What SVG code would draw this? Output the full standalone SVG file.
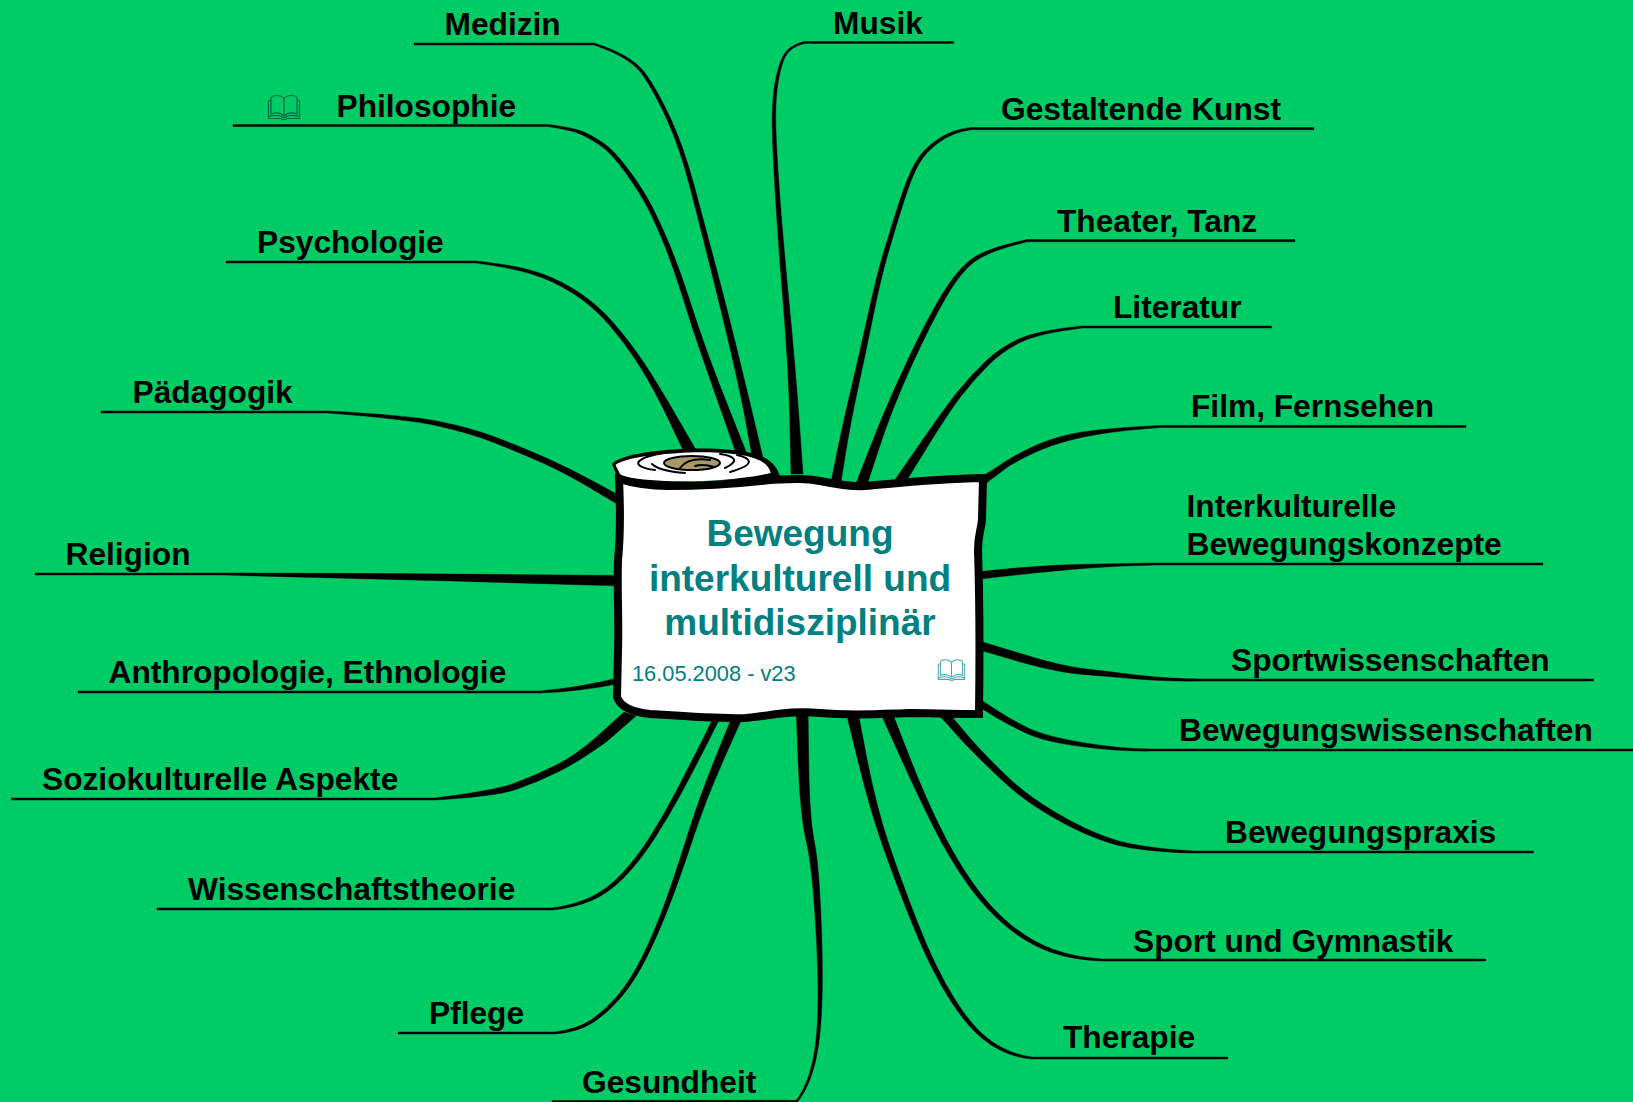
<svg xmlns="http://www.w3.org/2000/svg" xmlns:xlink="http://www.w3.org/1999/xlink" width="1633" height="1102" viewBox="0 0 1633 1102">
<style>
.l{font-family:"Liberation Sans",Arial,sans-serif;font-weight:bold;font-size:31.700px;fill:#000}
.t{font-family:"Liberation Sans",Arial,sans-serif;font-weight:bold;font-size:37px;fill:#008080;text-anchor:middle}
.d{font-family:"Liberation Sans",Arial,sans-serif;font-size:21.800px;fill:#008080}
#connectors path{fill:#000;stroke:#000;stroke-width:.4;stroke-linejoin:round}
.ring{fill:none;stroke:#000;stroke-width:2;stroke-linecap:round}
.bk{fill:none;stroke-width:1.2;stroke-linejoin:round}
</style>
<defs>
<symbol id="book" viewBox="0 0 34 25" overflow="visible">
<path d="M17 21C14 18 9 17 4 19L4 3C5 0 14-1 17 4C20-1 29 0 30 3L30 19C25 17 20 18 17 21ZM17 4L17 21"/>
<path d="M4 5L1.500 6L1.500 23.500L14 23.500C15 25 19 25 20 23.500L32.500 23.500L32.500 6L30 5"/>
<path d="M2 21.500C7 20 13 20 17 23C21 20 27 20 32 21.500"/>
</symbol>
</defs>
<rect width="1633" height="1102" fill="#00cc66"/>
<g id="connectors">
<path d="M414 42.900L594 42.900Q632 55 644.750 72.500Q657.500 90 670.750 118.700Q684 147.400 694.700 187.400Q705.400 227.400 716.200 267.850Q727 308.300 737.700 352.150Q748.400 396 756.200 429L764 462L753 462L747.300 430Q741.600 398 731.300 353.850Q721 309.700 710.800 269.150Q700.600 228.600 690.300 188.600Q680 148.600 667.250 120.300Q654.500 92 642.250 74.500Q630 57 594 45.100L414 45.100Z"/>
<path d="M233 124.400L548 124.400Q573.500 127.600 582.800 131.600Q592 135.500 602.700 142.600Q613.400 149.600 628.200 169.300Q643 189 652 206.500Q661 224 670.300 246.600Q679.600 269.200 688.800 297.700Q697.900 326.200 707.300 352Q716.700 377.800 731.900 415.900L747 454L737 456L723.700 418.100Q710.300 380.200 701.200 354Q692.100 327.800 683.300 299.300Q674.400 270.800 665.700 248.400Q657 226 648 208.500Q639 191 624.800 171.700Q610.600 152.400 600.300 145.500Q590 138.500 581.300 134.500Q572.500 130.400 548 126.600L233 126.600Z"/>
<path d="M226 260.900L476 260.900Q510.200 264.500 531.500 270.400Q552.800 276.200 574 289.200Q595.300 302.200 612.700 321.900Q630 341.500 644.300 363.300Q658.600 385 677.300 417.500L696 450L684 452L668.700 420Q653.400 388 639.700 366.300Q626 344.500 609.400 325.200Q592.700 305.800 572 292.800Q551.200 279.800 530.500 273.700Q509.800 267.500 476 263.100L226 263.100Z"/>
<path d="M101 410.900L328 410.900Q406.200 415 438 421.200Q469.700 427.400 495.900 437.300Q522 447.200 545.700 457.700Q569.400 468.200 595.700 482.600L622 497L622 507L594.300 490.400Q566.600 473.800 543.300 463.300Q520 452.800 494.200 442.700Q468.300 432.600 437 425.800Q405.800 419 328 413.100L101 413.100Z"/>
<path d="M35 572.900L224 572.900L400 573.500L622 575.500L622 586L450 581L224 575.100L35 575.100Z"/>
<path d="M78 690.900L539 690.900Q578 688 622 677L622 683Q578 692 539 693.100L78 693.100Z"/>
<path d="M11.500 797.900L435 797.900Q494.200 790.600 514.300 783.300Q534.400 775.900 555.200 765.600Q575.900 755.200 597 736.500L624 712L636 716L606.800 741.500Q580.100 760.800 558.900 771.500Q537.600 782.100 516.700 789.300Q495.800 796.400 435 800.100L11.500 800.100Z"/>
<path d="M157 907.900L552 907.900Q572.500 905.200 589 897.900Q605.600 890.600 620.900 874.700Q636.200 858.700 650.500 836Q664.800 813.300 677.600 788.500Q690.300 763.600 701.600 741.700L716 712L722 714L708.900 740.200Q695.700 766.400 682.500 791Q669.200 815.700 654.500 838.500Q639.800 861.300 624.100 877.400Q608.400 893.400 591 900.700Q573.500 908 552 910.100L157 910.100Z"/>
<path d="M398 1031.900L555 1031.900Q577.400 1029.200 591.600 1019.500Q605.700 1009.700 618.500 994.400Q631.300 979 642.600 956.100Q653.900 933.200 664.100 905.200Q674.300 877.200 687 836.500Q699.700 795.800 716.900 753.900L734 712L744 714L725.200 756.100Q706.300 798.200 693 838.500Q679.700 878.800 668.900 906.800Q658.100 934.800 646.400 957.900Q634.700 981 621.500 996.700Q608.300 1012.300 593.500 1022.200Q578.600 1032 555 1034.100L398 1034.100Z"/>
<path d="M552 1100.400L796.500 1100.200Q811 1080.500 815.500 1044.300Q820 1008 816.300 937.500Q812.500 867 806.500 842.500Q800.500 818 798.300 765L796 708L808 708L808.800 765Q809.500 818 814.500 842.500Q819.500 867 821.800 937.500Q824 1008 818.500 1045.400Q813 1082.700 797.500 1102L552 1102Z"/>
<path d="M804 41.500L953.600 41.500L953.600 43.500L804 43.500Q789.500 47.500 785 57.300Q780.400 67.100 777.800 84.600Q775.200 102 775.900 126.500Q776.500 151 780 198.500Q783.600 246 789.600 307.500Q795.500 369 799.300 421.500L803 474L791 474L789.800 421.500Q788.500 369 783.500 307.500Q778.400 246 775.500 198.500Q772.500 151 772.200 126.500Q771.800 102 774.700 84.300Q777.600 66.500 783 55.900Q788.500 45.300 804 41.500Z"/>
<path d="M1314 127.500L971 127.500Q952.200 129.200 937.500 139.500Q922.700 149.700 915.500 162.300Q908.200 174.900 900 199.700Q891.900 224.400 884 250.700Q876.200 277 868.200 313.800Q860.100 350.500 851.800 385.800Q843.400 421 837.200 451.500L831 482L841 482L845.800 452.100Q850.600 422.200 858.300 386.900Q865.900 351.500 873.400 314.900Q880.800 278.200 888.500 251.900Q896.100 225.600 904 201.100Q911.800 176.500 918.600 164.400Q925.300 152.300 939.100 142.300Q952.800 132.200 971 129.700L1314 129.700Z"/>
<path d="M1295 239.600L1027 239.600Q987.300 247.900 972.400 258.400Q957.400 268.900 941.500 295.300Q925.600 321.700 905.800 364.100Q886 406.400 870.500 446.200L855 486L866 488L879 448.400Q892 408.800 911.200 366.600Q930.400 324.300 945.500 298.200Q960.600 272.100 974.700 261.600Q988.700 251.100 1027 241.800L1295 241.800Z"/>
<path d="M1271.500 325.900L1082 325.900Q1037.100 330.400 1018.500 339.100Q999.800 347.800 984.900 361.900Q970 376 956.800 392.700Q943.600 409.300 917.800 446.700L892 484L902 488L925.200 450.400Q948.400 412.700 961.200 396.100Q974 379.400 988.100 365.400Q1002.200 351.400 1020 342.500Q1037.900 333.600 1082 328.100L1271.500 328.100Z"/>
<path d="M1466 425.400L1160 425.400Q1123.400 427.200 1096.900 430Q1070.400 432.800 1049.600 440Q1028.700 447.100 1005.800 461.200L980 478L985 484L1009 466Q1031.300 452.900 1051.500 445.800Q1071.600 438.600 1097.600 434.400Q1123.600 430.200 1160 427.600L1466 427.600Z"/>
<path d="M1543 562.900L1157 562.900Q1097 563.600 1060 565Q1020 567 976 572L976 579.500Q1045 571.400 1090 568Q1120 565.800 1157 565.100L1543 565.100Z"/>
<path d="M1593.500 678.900L1200.600 678.900Q1165 678.500 1136.500 675Q1108 671.600 1083.500 668.600Q1058.900 665.600 1021.700 653.800L976 640L976 649L1019.300 661.700Q1057.100 672.400 1082.600 674.400Q1108 676.400 1136.500 679Q1165 681.500 1200.600 681.100L1593.500 681.100Z"/>
<path d="M1633 748.900L1149.500 748.900Q1118 748.500 1082 742.400Q1045.800 736.300 1029.200 728.400Q1012.500 720.500 998.800 711.600L978 698L976 705L995.300 717Q1009.500 725.500 1026.900 733.600Q1044.200 741.700 1081.100 746.600Q1118 751.500 1149.500 751.100L1633 751.100Z"/>
<path d="M1533.500 850.900L1194 850.900Q1160.100 849.500 1131.800 844.100Q1103.500 838.700 1067.500 819.200Q1031.400 799.600 1008.500 777.800Q985.500 755.900 969 736.900L948 712L938 714L963 741.800Q980.500 760.100 1004.200 782.300Q1027.800 804.400 1064.800 823.900Q1101.700 843.300 1130.800 847.900Q1159.900 852.500 1194 853.100L1533.500 853.100Z"/>
<path d="M1485.600 958.900L1102.600 958.900Q1074.300 957.100 1052.700 949.200Q1031.100 941.300 1010.400 924.400Q989.700 907.500 971.800 881.600Q953.800 855.600 938.400 823.600Q922.900 791.600 907.500 751.800L892 712L880 712L898.600 753.200Q917.100 794.400 933.200 826.400Q949.200 858.400 967.800 884.500Q986.300 910.500 1007.600 927.600Q1028.900 944.700 1051.300 952.400Q1073.700 960.100 1102.600 961.100L1485.600 961.100Z"/>
<path d="M1227.700 1056.900L1032 1056.900Q1011.500 1054.600 992.500 1041.900Q973.400 1029.200 954.400 998.600Q935.300 967.900 917.600 922.500Q899.800 877 888.100 841.800Q876.400 806.600 867 759L858 712L846 712L857.800 760.200Q869.600 808.400 881.900 843.700Q894.200 879 912.500 924.600Q930.700 970.100 950.700 1001Q970.600 1032 990.600 1044.700Q1010.500 1057.400 1032 1059.100L1227.700 1059.100Z"/>
</g>
<g id="node-center">
<path fill="#000" d="M612 464C622 452 680 447 720 449C753 451 776 456 780 478L620 484Z"/>
<path fill="#fff" d="M615.500 465C625 456 680 451 715 452.500C750 454 768 460 770.700 473C740 480 700 482 665 481C645 480 625 478 620 474Z"/>
<path fill="#fff" stroke="#000" stroke-width="8" stroke-linejoin="miter" d="M619 479C635 484 650 486 668 486C695 486 735 484 770 480C790 479 805 478 820 481C835 484 850 487 865 486C890 484 930 479 983 478L982 520C981 530 978 535 978 550C979 580 980 640 979 714C950 714 930 713 910 713C880 714 850 716 820 713C790 710 770 716 745 718C720 719 680 716 650 714C632 712 620 706 617 697L618 650C619 620 617 590 618 560C621 530 620 500 619 479Z"/>
<path class="ring" d="M655 470C638 468 630 462 650 456C660 453 670 452 680 452"/>
<path class="ring" d="M737 455C750 458 758 464 730 472"/>
<path class="ring" d="M652 464C658 470 672 472 685 473"/>
<path class="ring" d="M720 454C735 456 740 461 725 468"/>
<ellipse cx="692" cy="463" rx="28" ry="7" fill="#a8996a" stroke="#000" stroke-width="2"/>
<path class="ring" d="M680 468C686 460 696 458 710 460M695 466C702 464 708 465 714 467"/>
<text class="t" x="800" y="546">Bewegung</text>
<text class="t" x="800" y="590.500">interkulturell und</text>
<text class="t" x="800" y="635">multidisziplinär</text>
<text class="d" x="632" y="680.500">16.05.2008 - v23</text>
<use href="#book" xlink:href="#book" x="937" y="659" width="29" height="22" class="bk" stroke="#44aaaa"/>
</g>
<g id="node-medizin"><text class="l" x="444.500" y="34.500">Medizin</text></g>
<g id="node-philosophie"><use href="#book" xlink:href="#book" x="267" y="95" width="34" height="25" class="bk" stroke="#006644"/><text class="l" x="336.500" y="117">Philosophie</text></g>
<g id="node-psychologie"><text class="l" x="257" y="253">Psychologie</text></g>
<g id="node-paedagogik"><text class="l" x="132.500" y="402.500">Pädagogik</text></g>
<g id="node-religion"><text class="l" x="65.500" y="564.500">Religion</text></g>
<g id="node-anthropologie"><text class="l" x="108.500" y="682.500">Anthropologie, Ethnologie</text></g>
<g id="node-soziokulturelle"><text class="l" x="42" y="790">Soziokulturelle Aspekte</text></g>
<g id="node-wissenschaftstheorie"><text class="l" x="188" y="899.500">Wissenschaftstheorie</text></g>
<g id="node-pflege"><text class="l" x="429" y="1023.500">Pflege</text></g>
<g id="node-gesundheit"><text class="l" x="582" y="1093">Gesundheit</text></g>
<g id="node-musik"><text class="l" x="833" y="34">Musik</text></g>
<g id="node-gestaltende"><text class="l" x="1001" y="120">Gestaltende Kunst</text></g>
<g id="node-theater"><text class="l" x="1057" y="231.500">Theater, Tanz</text></g>
<g id="node-literatur"><text class="l" x="1113" y="318">Literatur</text></g>
<g id="node-film"><text class="l" x="1191" y="417">Film, Fernsehen</text></g>
<g id="node-interkulturelle"><text class="l" x="1186.500" y="516.500">Interkulturelle</text><text class="l" x="1186.500" y="555">Bewegungskonzepte</text></g>
<g id="node-sportwissenschaften"><text class="l" x="1231" y="671">Sportwissenschaften</text></g>
<g id="node-bewegungswissenschaften"><text class="l" x="1179" y="741">Bewegungswissenschaften</text></g>
<g id="node-bewegungspraxis"><text class="l" x="1225" y="843">Bewegungspraxis</text></g>
<g id="node-sport"><text class="l" x="1133" y="951.500">Sport und Gymnastik</text></g>
<g id="node-therapie"><text class="l" x="1063" y="1048">Therapie</text></g>
</svg>
